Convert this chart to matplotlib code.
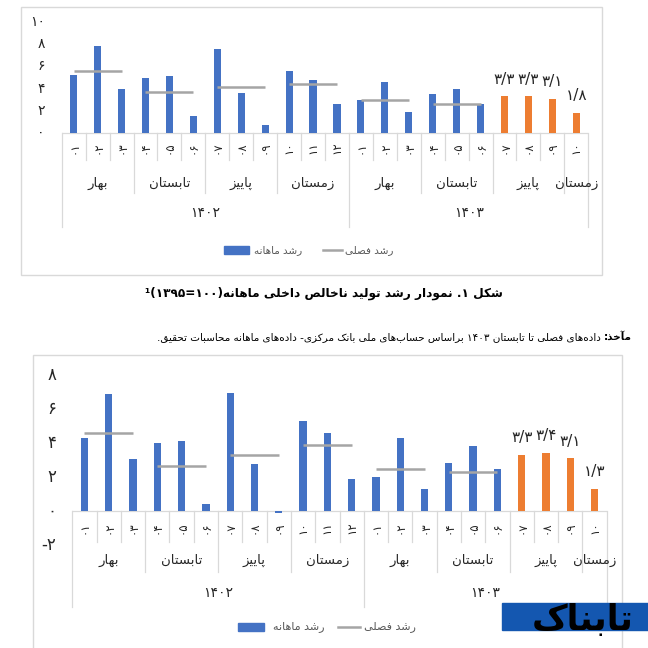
import re
import matplotlib
matplotlib.use('Agg')
import matplotlib.pyplot as plt
from matplotlib.patches import Rectangle
from matplotlib.lines import Line2D
from matplotlib.transforms import blended_transform_factory

plt.rcParams['font.family'] = ['DejaVu Sans']

# ---- data ----
month_labels = ['01', '02', '03', '04', '05', '06', '07', '08', '09', '10', '11', '12',
                '01', '02', '03', '04', '05', '06', '07', '08', '09', '10']
season_names = ['بهار', 'تابستان', 'پاییز', 'زمستان', 'بهار', 'تابستان', 'پاییز', 'زمستان']
season_sizes = [3, 3, 3, 3, 3, 3, 3, 1]
year_names = ['1402', '1403']
year_sizes = [12, 10]

# top chart
top_monthly = [5.2, 7.8, 4.0, 5.0, 5.1, 1.5, 7.6, 3.6, 0.75, 5.6, 4.8, 2.6,
               3.0, 4.6, 1.9, 3.5, 4.0, 2.6]
top_forecast = [3.3, 3.3, 3.1, 1.8]
top_seasonal = [5.6, 3.7, 4.1, 4.4, 3.0, 2.6]
top_yticks = [0, 2, 4, 6, 8, 10]

# bottom chart
bot_monthly = [4.3, 6.9, 3.05, 4.0, 4.1, 0.4, 6.95, 2.75, -0.1, 5.3, 4.6, 1.9,
               2.0, 4.3, 1.3, 2.8, 3.8, 2.45]
bot_forecast = [3.3, 3.4, 3.1, 1.3]
bot_seasonal = [4.6, 2.65, 3.3, 3.9, 2.5, 2.3]
bot_yticks = [-2, 0, 2, 4, 6, 8]

legend_labels = ['رشد ماهانه', 'رشد فصلی']
caption = 'شکل ۱. نمودار رشد تولید ناخالص داخلی ماهانه(۱۰۰=۱۳۹۵)¹'
source_head = 'مآخذ:'
source_body = 'داده‌های فصلی تا تابستان ۱۴۰۳ براساس حساب‌های ملی بانک مرکزی- داده‌های ماهانه محاسبات تحقیق.'

BLUE = '#4472C4'
ORANGE = '#ED7D31'
GRAY = '#A5A5A5'
GRID = '#D9D9D9'
TXT = '#262626'

# ---- persian text helpers (matplotlib has no shaping engine) ----
AR = {
    '\u0627': ('\uFE8D', '\uFE8E', None, None),   # alef
    '\u0622': ('\uFE81', '\uFE82', None, None),   # alef madda
    '\u0628': ('\uFE8F', '\uFE90', '\uFE91', '\uFE92'),
    '\u067E': ('\uFB56', '\uFB57', '\uFB58', '\uFB59'),
    '\u062A': ('\uFE95', '\uFE96', '\uFE97', '\uFE98'),
    '\u062D': ('\uFEA1', '\uFEA2', '\uFEA3', '\uFEA4'),
    '\u062E': ('\uFEA5', '\uFEA6', '\uFEA7', '\uFEA8'),
    '\u062F': ('\uFEA9', '\uFEAA', None, None),
    '\u0630': ('\uFEAB', '\uFEAC', None, None),
    '\u0631': ('\uFEAD', '\uFEAE', None, None),
    '\u0632': ('\uFEAF', '\uFEB0', None, None),
    '\u0633': ('\uFEB1', '\uFEB2', '\uFEB3', '\uFEB4'),
    '\u0634': ('\uFEB5', '\uFEB6', '\uFEB7', '\uFEB8'),
    '\u0635': ('\uFEB9', '\uFEBA', '\uFEBB', '\uFEBC'),
    '\u0641': ('\uFED1', '\uFED2', '\uFED3', '\uFED4'),
    '\u0642': ('\uFED5', '\uFED6', '\uFED7', '\uFED8'),
    '\u06A9': ('\uFB8E', '\uFB8F', '\uFB90', '\uFB91'),
    '\u0644': ('\uFEDD', '\uFEDE', '\uFEDF', '\uFEE0'),
    '\u0645': ('\uFEE1', '\uFEE2', '\uFEE3', '\uFEE4'),
    '\u0646': ('\uFEE5', '\uFEE6', '\uFEE7', '\uFEE8'),
    '\u0647': ('\uFEE9', '\uFEEA', '\uFEEB', '\uFEEC'),
    '\u0648': ('\uFEED', '\uFEEE', None, None),
    '\u06CC': ('\uFBFC', '\uFBFD', '\uFBFE', '\uFBFF'),
}
NUM = re.compile(r'[0-9\u06F0-\u06F9]+(?:[/.][0-9\u06F0-\u06F9]+)*')
MIRROR = {'(': ')', ')': '('}


def shape(s):
    out = []
    for i, c in enumerate(s):
        if c not in AR:
            if c != '\u200c':
                out.append(c)
            continue
        p = s[i - 1] if i > 0 else ''
        n = s[i + 1] if i + 1 < len(s) else ''
        jp = p in AR and AR[p][2] is not None
        jn = AR[c][2] is not None and n in AR
        iso, fin, ini, med = AR[c]
        out.append(med if (jp and jn) else fin if jp else ini if jn else iso)
    return ''.join(out)


def fa(s):
    s = shape(s)
    parts, pos = [], 0
    for m in NUM.finditer(s):
        parts.append(''.join(MIRROR.get(c, c) for c in reversed(s[pos:m.start()])))
        parts.append(m.group())
        pos = m.end()
    parts.append(''.join(MIRROR.get(c, c) for c in reversed(s[pos:])))
    return ''.join(reversed(parts))


def fd(s):
    return s.translate(str.maketrans('0123456789', '۰۱۲۳۴۵۶۷۸۹'))


# ---- figure ----
W = H = 648
fig = plt.figure(figsize=(6.48, 6.48), dpi=100)
fig.patch.set_facecolor('white')


def fx(x):
    return x / W


def fy(y):
    return 1 - y / H


def panel(x0, x1, base, ppu, ymin, ymax, lay, monthly, forecast, seasonal,
          yticks, ylab_x, tick_fs):
    ax = fig.add_axes([fx(x0), fy(base - ymin * ppu), (x1 - x0) / W,
                       (ymax - ymin) * ppu / H])
    ncat = len(month_labels)
    ax.set_xlim(0, ncat)
    ax.set_ylim(ymin, ymax)
    ax.axis('off')

    ax.plot([0, ncat], [0, 0], color=GRID, lw=0.9, zorder=1)

    n = len(monthly)
    ax.bar([i + 0.5 for i in range(n)], monthly, width=0.3, color=BLUE, zorder=2)
    fx_pos = [n + i + 0.5 for i in range(len(forecast))]
    ax.bar(fx_pos, forecast, width=0.3, color=ORANGE, zorder=2)
    for x, v in zip(fx_pos, forecast):
        ax.annotate(fd(f'{v:.1f}'.replace('.', '/')), (x, v), xytext=(0, 7),
                    textcoords='offset points', ha='center', va='bottom',
                    fontsize=11, color=TXT)

    starts = [sum(season_sizes[:j]) for j in range(len(season_sizes))]
    for j, v in enumerate(seasonal):
        s = starts[j]
        ax.plot([s + 0.5, s + season_sizes[j] - 0.5], [v, v], color=GRAY,
                lw=1.8, solid_capstyle='butt', zorder=3)

    # multi-level category axis
    season_b = set(starts + [ncat])
    year_b = set([0, year_sizes[0], ncat])
    for k in range(ncat + 1):
        bot = lay['year_bot'] if k in year_b else lay['season_bot'] if k in season_b else lay['month_bot']
        ax.plot([k, k], [0, bot], color=GRID, lw=0.9, zorder=1, clip_on=False)
    for i, m in enumerate(month_labels):
        ax.text(i + 0.5, lay['month_lab'], fd(m), rotation=90, ha='center',
                va='center', fontsize=8.5, color=TXT)
    for j, name in enumerate(season_names):
        ax.text(starts[j] + season_sizes[j] / 2, lay['season_lab'], fa(name),
                ha='center', va='center', fontsize=9.5, color=TXT)
    ys = 0
    for y, sz in zip(year_names, year_sizes):
        ax.text(ys + sz / 2, lay['year_lab'], fd(y), ha='center', va='center',
                fontsize=10, color=TXT)
        ys += sz

    trans = blended_transform_factory(fig.transFigure, ax.transData)
    for t in yticks:
        ax.text(fx(ylab_x), t, fd(str(t)), transform=trans, ha='right',
                va='center', fontsize=tick_fs, color=TXT)
    return ax


def legend(rx0, rx1, lx0, lx1, y, t1x, t2x, fs):
    fig.add_artist(Rectangle((fx(rx0), fy(y + 4)), (rx1 - rx0) / W, 8 / H,
                             transform=fig.transFigure, color=BLUE))
    fig.add_artist(Line2D([fx(lx0), fx(lx1)], [fy(y), fy(y)], color=GRAY,
                          lw=1.8, transform=fig.transFigure))
    fig.text(fx(t1x), fy(y), fa(legend_labels[0]), ha='left', va='center',
             fontsize=fs, color='#595959')
    fig.text(fx(t2x), fy(y), fa(legend_labels[1]), ha='left', va='center',
             fontsize=fs, color='#595959')


# outer frames
fig.add_artist(Rectangle((fx(20.7), fy(275)), 581 / W, 268.3 / H,
                         transform=fig.transFigure, fill=False, ec=GRID, lw=1))
fig.add_artist(Rectangle((fx(33.3), fy(660)), 588.4 / W, 305 / H,
                         transform=fig.transFigure, fill=False, ec=GRID, lw=1))

top_lay = dict(month_lab=-1.35, month_bot=-2.43, season_lab=-4.5,
               season_bot=-5.4, year_lab=-7.23, year_bot=-8.47)
panel(61.7, 588.3, 133, 11.1, -8.5, 10.8, top_lay, top_monthly, top_forecast,
      top_seasonal, top_yticks, 45, 10)
legend(224, 249, 323, 342, 250, 254, 345, 7.5)

bot_lay = dict(month_lab=-1.0, month_bot=-1.82, season_lab=-2.92,
               season_bot=-3.57, year_lab=-4.84, year_bot=-5.63)
panel(72.3, 606.7, 511, 17, -5.7, 8.6, bot_lay, bot_monthly, bot_forecast,
      bot_seasonal, bot_yticks, 56, 12)
legend(238, 264, 338, 360, 627, 273, 364, 8)

fig.text(fx(324), fy(293), fa(caption), ha='center', va='center',
         fontsize=8.7, fontweight='bold', color='black')
head = fig.text(fx(632), fy(337), fa(source_head), ha='right', va='center',
                fontsize=7.5, fontweight='bold', color='black')
fig.add_artist(plt.Annotation(fa(source_body), xy=(0, 0.5), xycoords=head,
                              xytext=(-2, 0), textcoords='offset points',
                              ha='right', va='center', fontsize=7.5, color='black'))

# logo
fig.add_artist(Rectangle((fx(501.7), fy(630)), 146.3 / W, 27.3 / H,
                         transform=fig.transFigure, color='#1457B0'))
fig.text(fx(634), fy(620), fa('تابناک'), ha='right', va='center', fontsize=25,
         fontweight='bold', color='black')

fig.savefig('out.png', dpi=100, facecolor='white')
